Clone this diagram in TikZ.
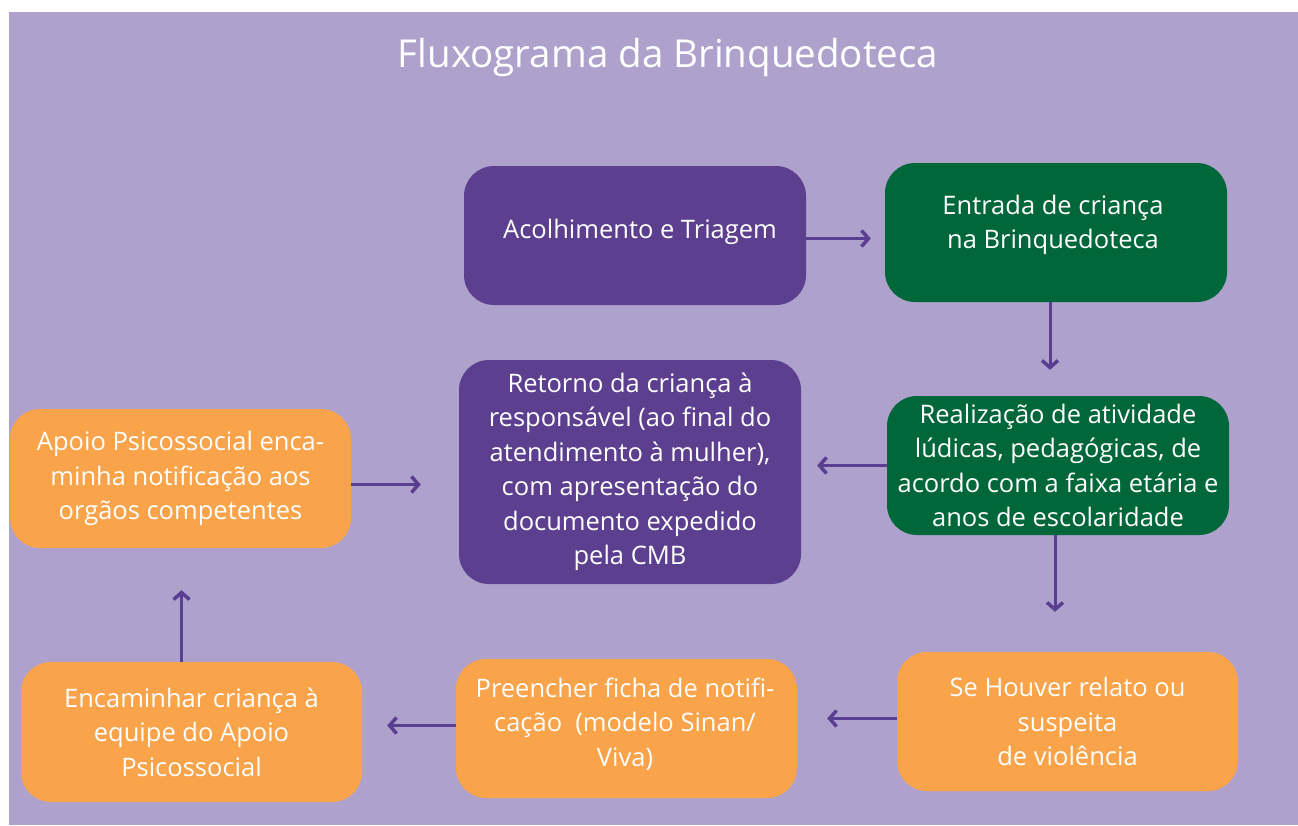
\documentclass[tikz,border=0pt]{standalone}
\usepackage{fontspec}
\setmainfont{Open Sans}
\usetikzlibrary{arrows.meta,calc}
\definecolor{bgpurple}{HTML}{AEA2CD}
\definecolor{boxpurple}{HTML}{5C3F8F}
\definecolor{boxgreen}{HTML}{00673A}
\definecolor{boxorange}{HTML}{F9A34A}
\definecolor{arrowpurple}{HTML}{5A3E92}
\tikzset{
  boxtext/.style={text=white, align=center, font=\fontsize{25.5}{34.5}\selectfont},
  box/.style={boxtext, rounded corners=30pt, minimum width=342pt, minimum height=139pt, inner sep=0pt},
  pbox/.style={box, fill=boxpurple},
  gbox/.style={box, fill=boxgreen},
  obox/.style={box, fill=boxorange},
  flow/.style={draw=arrowpurple, line width=3pt,
    -{Straight Barb[length=7pt,width=16pt,line width=3.5pt]}}
}
\begin{document}
\begin{tikzpicture}[x=1pt,y=-1pt]
\useasboundingbox (0,0) rectangle (1298,825);
\fill[bgpurple] (9,12) rectangle (1298,825);
\node[text=white, font=\fontsize{38.5}{44}\selectfont] (title) at (668,57) {Fluxograma da Brinquedoteca};

\node[pbox] (acol) at (635,235.5) {};
\node[boxtext] (acolt) at (640,232) {Acolhimento e Triagem};
\node[gbox] (entr) at (1056,232.5) {};
\node[boxtext] (entrt) at (1053,225) {Entrada de criança\\na Brinquedoteca};
\node[gbox] (real) at (1058,465.5) {Realização de atividade\\lúdicas, pedagógicas, de\\acordo com a faixa etária e\\anos de escolaridade};
\node[pbox, minimum height=224pt] (reto) at (630,472) {Retorno da criança à\\responsável (ao final do\\atendimento à mulher),\\com apresentação do\\documento expedido\\pela CMB};
\node[obox, minimum width=341pt] (apoi) at (180.5,478.5) {Apoio Psicossocial enca-\\minha notificação aos\\orgãos competentes};
\node[obox, minimum width=341pt, minimum height=140pt] (enca) at (191.5,732) {Encaminhar criança à\\equipe do Apoio\\Psicossocial};
\node[obox, minimum width=341pt] (pree) at (626.5,728.5) {};
\node[boxtext] (preet) at (625,724) {Preencher ficha de notifi-\\cação\ \ (modelo Sinan/\\Viva)};
\node[obox, minimum width=341pt] (seho) at (1067.5,721.5) {Se Houver relato ou\\suspeita\\de violência};

\draw[flow, shorten >=14pt] ([yshift=-3pt]acol.east) -- ([yshift=-3pt]acol.east -| entr.west);
\draw[flow, shorten >=26pt] ([xshift=-6pt]entr.south) -- ([xshift=-6pt]entr.south |- real.north);
\draw[flow, shorten >=16pt] (real.west) -- (real.west -| reto.east);
\draw[flow, shorten >=40pt] ([xshift=-3pt]real.south) -- ([xshift=-3pt]real.south |- seho.north);
\draw[flow, shorten >=30pt] ([yshift=3pt]seho.west) -- ([yshift=3pt]seho.west -| pree.east);
\draw[flow, shorten >=25pt] ([yshift=3pt]pree.west) -- ([yshift=3pt]pree.west -| enca.east);
\draw[flow, shorten >=42pt] ([xshift=-10pt]enca.north) -- ([xshift=-10pt]enca.north |- apoi.south);
\draw[flow, shorten >=38pt] ([yshift=-6pt]apoi.east) -- ([yshift=-6pt]apoi.east -| reto.west);
\end{tikzpicture}
\end{document}
